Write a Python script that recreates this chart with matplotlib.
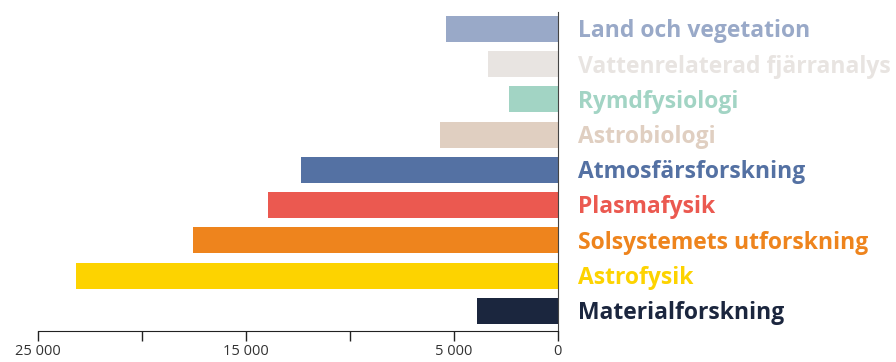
import matplotlib.pyplot as plt

# Data (top to bottom)
categories = ['Land och vegetation', 'Vattenrelaterad fjärranalys', 'Rymdfysiologi',
              'Astrobiologi', 'Atmosfärsforskning', 'Plasmafysik',
              'Solsystemets utforskning', 'Astrofysik', 'Materialforskning']
values = [5350, 3350, 2350, 5650, 12350, 13950, 17550, 23150, 3850]
colors = ['#99A9C8', '#E8E4E1', '#A2D4C4', '#E0CFC1', '#5471A3',
          '#EB5950', '#EE841D', '#FDD300', '#1B263E']
tick_values = [25000, 20000, 15000, 10000, 5000, 0]
tick_labels = ['25 000', '', '15 000', '', '5 000', '0']

fig = plt.figure(figsize=(8.96, 3.62), dpi=100)
ax = fig.add_axes([38 / 896, 31 / 362, 519.5 / 896, 319 / 362])

ypos = list(range(len(categories)))
ax.barh(ypos, values, height=0.74, color=colors)

ax.set_xlim(25000, 0)
ax.set_ylim(len(categories) - 1 + 0.57, -0.48)

# category labels to the right of the zero line
for i, (name, c) in enumerate(zip(categories, colors)):
    ax.annotate(name, xy=(0, i), xytext=(14.5, -6), textcoords='offset points',
                ha='left', va='baseline', color=c, fontsize=16.5,
                fontfamily='Open Sans', fontweight='bold', annotation_clip=False)

ax.set_xticks(tick_values)
ax.set_xticklabels(tick_labels, fontsize=10.5, color='#333333', fontfamily='Open Sans')
ax.tick_params(axis='x', length=7, width=1, color='#222222', pad=2.5)
ax.set_yticks([])

for s in ['left', 'top']:
    ax.spines[s].set_visible(False)
ax.spines['right'].set_color('#444444')
ax.spines['bottom'].set_color('#222222')

fig.savefig('out.png', dpi=100)
